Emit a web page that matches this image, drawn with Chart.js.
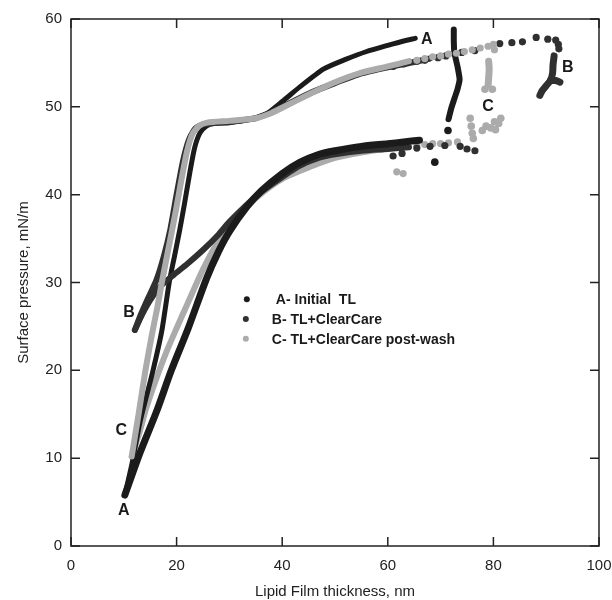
<!doctype html>
<html lang="en">
<head>
<meta charset="utf-8">
<title>Surface pressure vs lipid film thickness</title>
<script src="https://cdn.jsdelivr.net/npm/chart.js"></script>
<style>
    html, body { margin: 0; padding: 0; background: #fff; }
    .chartCard { width: 612px; height: 600px; }
</style>
</head>
<body>
<div class="chartCard">
<canvas id="myChart" width="612" height="600"></canvas>
</div>
<script>
// axis ticks
const xTicks = [0, 20, 40, 60, 80, 100];
const yTicks = [0, 10, 20, 30, 40, 50, 60];

// legend names
const seriesNames = ['A- Initial  TL', 'B- TL+ClearCare', 'C- TL+ClearCare post-wash'];

// A - initial tear lipid  [thickness nm, pressure mN/m]
const aUpper = [[10.2,5.8],[11.6,9.5],[13.1,14.2],[15.5,19.9],[17.2,24.5],[18.6,30],[19.6,33],[20.6,36],[21.5,39],[22.5,42.5],[23.4,45.3],[24.4,47],[25.6,47.8],[27,48.1],[30,48.2],[34,48.6],[37,49.2],[40,50.6],[43.4,52.3],[47.8,54.3],[52,55.4],[56,56.3],[60,57],[63,57.5],[65.2,57.8]];
const aLower = [[10.2,5.8],[13,10.5],[16.2,15.3],[19,20],[22.2,24.8],[25.7,30.5],[28,33.6],[30,35.8],[33.3,38.6],[36,40.4],[40,42.4],[43.4,43.7],[47,44.6],[50,45],[55,45.5],[60,45.8],[63,46],[66,46.2]];
const aDrop = [[72.5,58.8],[72.5,57.5],[72.6,56.2],[73.2,54.6],[73.6,53.1],[73.2,52],[72.7,51.1],[72,49.8],[71.5,48.6]];
const aDots = [[71.4,47.3],[68.9,43.7]];

// B - TL + ClearCare
const bUpper = [[12.1,24.6],[13.2,26.3],[14.6,28.2],[16.2,30.3],[17.6,33],[18.8,36],[20,40],[21.2,43.8],[22.3,46.2],[23.5,47.5],[25,48],[30,48.3],[35,48.7],[38,49.4],[40,50],[45,51.5],[50,52.7],[55,53.8],[60,54.5],[65,55.1],[68,55.5]];
const bUpperDots = [[61,54.6],[63,54.9],[65.5,55.2],[67,55.3],[69.5,55.6],[71,55.8],[74,56.2],[76.5,56.4],[81.2,57.2],[83.5,57.3],[85.5,57.4],[88.1,57.9],[90.3,57.7],[91.8,57.6],[92.3,57.1],[92.4,56.6]];
const bBlob = [[91.5,55.8],[91.3,54.8],[91.2,53.8],[90.8,53],[90,52.4],[89.2,51.8],[88.8,51.3]];
const bArm = [[90.8,53],[91.8,53],[92.6,52.8]];
const bLower = [[12.1,24.6],[13.5,26.4],[15,28],[17,29.6],[19.5,30.9],[22,32.1],[25,33.7],[28,35.5],[30,36.9],[33,38.7],[36,40.3],[40,42],[43,43.2],[47,44.2],[50,44.6],[55,45],[60,45.2],[64,45.4]];
const bLowerDots = [[61,44.4],[62.7,44.7],[65.5,45.3],[68,45.5],[70.8,45.6],[73.7,45.5],[75,45.2],[76.5,45]];

// C - TL + ClearCare post-wash
const cUpper = [[11.5,10.2],[12.8,15],[14.1,20],[15.3,24],[16.3,27],[17.3,30.3],[18.5,34],[19.8,38],[21,42],[22,45],[23,46.9],[24.2,47.8],[25.8,48.2],[30,48.4],[35,48.7],[38,49.3],[40,49.9],[45,51.4],[50,52.8],[55,53.9],[60,54.6],[64,55.2]];
const cUpperDots = [[65.5,55.3],[67,55.5],[68.5,55.7],[70,55.8],[71.5,56],[73,56.1],[74.5,56.3],[76,56.5],[77.5,56.7],[79,56.9],[80,57.1],[80.2,56.5]];
const cLower = [[11.5,10.2],[13,13],[14.3,15.8],[16,18.8],[18,22],[20,24.8],[22,27.5],[25,31.5],[28,34.8],[31,37.2],[35,39.6],[40,41.8],[45.8,43.3],[50,44.2],[55,44.8],[61.7,45.4],[64,45.5]];
const cLowerDots = [[65.5,45.6],[67,45.7],[68.5,45.8],[70,45.8],[71.5,45.9],[73.2,46],[61.7,42.6],[62.9,42.4]];
const cBlobTop = [[79.1,55.2],[79.2,54.3],[79.1,53.3],[79,52.5]];
const cBlobDots = [[78.4,52],[79.8,52],[75.6,48.7],[75.8,47.8],[76,47],[76.2,46.4],[77.9,47.3],[78.6,47.8],[79.5,47.6],[80.4,47.4],[81,48.1],[81.4,48.7],[80.2,48.3]];

// curve letters
const curveLabels = [['A', 67.4, 57.6], ['B', 94.1, 54.5], ['C', 79, 50], ['B', 11, 26.6], ['C', 9.5, 13.1], ['A', 10, 4]];

const colA = '#1b1b1b';
const colB = '#303030';
const colC = '#ababab';

function pts(arr) {
    return arr.map(p => ({ x: p[0], y: p[1] }));
}

function curve(arr, color, width, order, tension) {
    return {
        data: pts(arr), showLine: true, borderColor: color, borderWidth: width,
        pointRadius: 0, tension: tension === undefined ? 0.25 : tension,
        borderCapStyle: 'round', borderJoinStyle: 'round', order: order
    };
}

function dots(arr, color, r, order) {
    return {
        data: pts(arr), showLine: false, backgroundColor: color, borderWidth: 0,
        pointRadius: r, order: order
    };
}

const data = {
    datasets: [
        curve(cUpper, colC, 6, 1, 0.2),
        curve(cLower, colC, 6, 4),
        dots(cUpperDots, colC, 3.6, 1),
        dots(cLowerDots, colC, 3.6, 4),
        curve(cBlobTop, colC, 7, 1),
        dots(cBlobDots, colC, 3.8, 1),
        curve(bUpper, colB, 6, 2, 0.2),
        curve(bLower, colB, 6, 2),
        dots(bUpperDots, colB, 3.6, 2),
        dots(bLowerDots, colB, 3.6, 2),
        curve(bBlob, colB, 7, 2),
        curve(bArm, colB, 7, 2),
        curve(aUpper, colA, 5, 3, 0.2),
        curve(aLower, colA, 7, 1),
        curve(aDrop, colA, 6, 3, 0.15),
        dots(aDots, colA, 3.8, 3)
    ]
};

const frame = {
    id: 'frame',
    afterDraw(chart) {
        const ctx = chart.ctx;
        const a = chart.chartArea;
        const xs = chart.scales.x, ys = chart.scales.y;
        ctx.save();
        ctx.strokeStyle = '#222';
        ctx.lineWidth = 1.5;
        ctx.strokeRect(a.left, a.top, a.right - a.left, a.bottom - a.top);
        ctx.beginPath();
        xTicks.forEach(v => {
            const px = xs.getPixelForValue(v);
            ctx.moveTo(px, a.bottom); ctx.lineTo(px, a.bottom - 9);
            ctx.moveTo(px, a.top); ctx.lineTo(px, a.top + 9);
        });
        yTicks.forEach(v => {
            const py = ys.getPixelForValue(v);
            ctx.moveTo(a.left, py); ctx.lineTo(a.left + 9, py);
            ctx.moveTo(a.right, py); ctx.lineTo(a.right - 9, py);
        });
        ctx.stroke();

        // letters on the curves
        ctx.fillStyle = '#1a1a1a';
        ctx.font = 'bold 16px "Liberation Sans", Arial, sans-serif';
        ctx.textAlign = 'center';
        ctx.textBaseline = 'middle';
        curveLabels.forEach(l => {
            ctx.fillText(l[0], xs.getPixelForValue(l[1]), ys.getPixelForValue(l[2]));
        });

        // legend inside the plot
        const cols = [colA, colB, colC];
        const lx = xs.getPixelForValue(33.3);
        ctx.font = 'bold 14px "Liberation Sans", Arial, sans-serif';
        ctx.textAlign = 'left';
        seriesNames.forEach((name, i) => {
            const ly = ys.getPixelForValue(28.1 - i * 2.25);
            ctx.fillStyle = cols[i];
            ctx.beginPath();
            ctx.arc(lx - (i === 0 ? 0 : 1), ly, 3, 0, Math.PI * 2);
            ctx.fill();
            ctx.fillStyle = '#1a1a1a';
            ctx.fillText(name, lx + (i === 0 ? 29 : 25), ly + 1);
        });
        ctx.restore();
    }
};

const tickFont = { family: '"Liberation Sans", Arial, sans-serif', size: 15 };

const config = {
    type: 'scatter',
    data: data,
    plugins: [frame],
    options: {
        responsive: false,
        animation: false,
        layout: { padding: { top: 19, right: 13, left: 0, bottom: 0 } },
        plugins: { legend: { display: false }, tooltip: { enabled: false } },
        scales: {
            x: {
                type: 'linear', min: 0, max: 100,
                afterFit: s => { s.height = 54; s.paddingLeft = 0; s.paddingRight = 0; },
                afterBuildTicks: s => { s.ticks = xTicks.map(v => ({ value: v })); },
                grid: { display: false, drawTicks: false },
                border: { display: false },
                ticks: { color: '#222', font: tickFont, padding: 11, maxRotation: 0 },
                title: { display: true, text: 'Lipid Film thickness, nm', color: '#222', font: tickFont, padding: { top: 0, bottom: -1 } }
            },
            y: {
                type: 'linear', min: 0, max: 60,
                afterFit: s => { s.width = 71; s.paddingTop = 0; s.paddingBottom = 0; },
                afterBuildTicks: s => { s.ticks = yTicks.map(v => ({ value: v })); },
                grid: { display: false, drawTicks: false },
                border: { display: false },
                ticks: { color: '#222', font: tickFont, padding: 9 },
                title: { display: true, text: 'Surface pressure, mN/m', color: '#222', font: tickFont, padding: { top: 15, bottom: 0 } }
            }
        }
    }
};

const myChart = new Chart(document.getElementById('myChart'), config);
</script>
</body>
</html>
